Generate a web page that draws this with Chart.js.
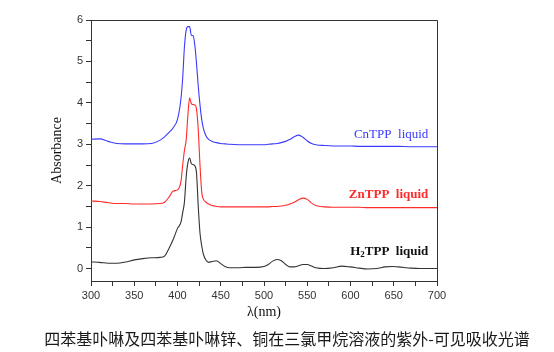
<!DOCTYPE html>
<html lang="zh">
<head>
<meta charset="UTF-8">
<script src="https://cdn.jsdelivr.net/npm/chart.js"></script>
<style>
  html, body { margin: 0; padding: 0; background: #fff; }
  #wrap { position: relative; width: 554px; height: 352px; }
  #caption {
    position: absolute; left: 20px; width: 534px; top: 326px;
    text-align: center; font: 16px "Noto Sans CJK SC", sans-serif; color: #1a1a1a;
  }
</style>
<title>UV-Vis</title>
</head>
<body>
<div id="wrap">
  <canvas id="myChart" width="554" height="352"></canvas>
  <div id="caption">四苯基卟啉及四苯基卟啉锌、铜在三氯甲烷溶液的紫外-可见吸收光谱</div>
</div>
<script>
// wavelength (nm), shared by all three spectra
const wavelengths = [300,310,320,330,340,350,360,370,380,385,390,395,400,404,406,408,410,412,414,416,418,420,422,424,426,428,430,433,436,440,445,450,455,460,470,480,490,500,505,510,515,520,525,530,535,540,545,550,555,560,570,580,590,600,610,620,630,640,648,655,670,680,690,700];

const cnTPP = [3.12,3.13,3.07,3.02,3.01,3.01,3.01,3.02,3.1,3.18,3.28,3.4,3.6,4.1,4.6,5.35,5.75,5.84,5.84,5.63,5.62,5.4,4.95,4.4,3.95,3.6,3.38,3.2,3.12,3.07,3.04,3.02,3.01,3.0,2.99,2.99,2.99,2.99,3.0,3.01,3.02,3.04,3.07,3.12,3.18,3.22,3.17,3.08,3.02,2.99,2.97,2.96,2.96,2.96,2.95,2.95,2.95,2.95,2.95,2.95,2.94,2.94,2.94,2.94];

const znTPP = [1.63,1.62,1.59,1.57,1.57,1.56,1.56,1.56,1.57,1.6,1.72,1.87,1.9,2.1,2.5,2.85,3.1,3.7,4.12,3.98,3.96,3.95,3.85,3.35,2.5,1.85,1.67,1.6,1.56,1.52,1.5,1.49,1.49,1.49,1.49,1.49,1.49,1.49,1.49,1.5,1.5,1.51,1.53,1.56,1.6,1.66,1.7,1.67,1.58,1.52,1.49,1.48,1.48,1.48,1.48,1.47,1.47,1.47,1.47,1.47,1.47,1.47,1.47,1.47];

const h2TPP = [0.16,0.15,0.13,0.13,0.16,0.21,0.24,0.26,0.27,0.3,0.48,0.7,0.97,1.12,1.35,1.6,2.2,2.55,2.67,2.53,2.51,2.48,2.3,1.5,0.86,0.55,0.34,0.2,0.15,0.17,0.19,0.12,0.05,0.02,0.02,0.03,0.03,0.05,0.1,0.18,0.22,0.19,0.1,0.04,0.04,0.07,0.1,0.1,0.06,0.02,0.0,0.02,0.06,0.04,0.01,-0.01,0.0,0.04,0.05,0.04,0.01,0.0,0.0,0.0];

const seriesNames = ['CnTPP  liquid', 'ZnTPP  liquid', 'H2TPP  liquid'];
const seriesColors = ['#3a3aff', '#ff2a2a', '#333333'];
// where each label sits (right edge, in nm / absorbance)
const labelX = [690, 690, 690];
const labelY = [3.24, 1.79, 0.42];

const xTicks = [300,325,350,375,400,425,450,475,500,525,550,575,600,625,650,675,700];
const yTicks = [0,0.5,1,1.5,2,2.5,3,3.5,4,4.5,5,5.5,6];

const toPoints = arr => wavelengths.map((w, i) => ({x: w, y: arr[i]}));

const frame = {
  id: 'frame',
  afterDraw(chart) {
    const {ctx, chartArea: a} = chart;
    ctx.save();
    ctx.strokeStyle = '#333';
    ctx.lineWidth = 1;
    ctx.beginPath();
    ctx.moveTo(a.left, a.top + 0.5);
    ctx.lineTo(a.right + 0.5, a.top + 0.5);
    ctx.lineTo(a.right + 0.5, a.bottom);
    ctx.stroke();
    ctx.restore();
  }
};

const seriesLabels = {
  id: 'seriesLabels',
  afterDatasetsDraw(chart) {
    const {ctx, scales: {x, y}} = chart;
    ctx.save();
    ctx.textBaseline = 'middle';
    seriesNames.forEach((name, i) => {
      const px = x.getPixelForValue(labelX[i]);
      const py = y.getPixelForValue(labelY[i]);
      const bold = i > 0 ? 'bold ' : '';
      ctx.fillStyle = seriesColors[i] === '#333333' ? '#111' : seriesColors[i];
      if (name.startsWith('H2')) {
        const big = bold + '13px "Liberation Serif"';
        const small = bold + '9px "Liberation Serif"';
        const rest = name.slice(2);
        ctx.font = big;
        const wH = ctx.measureText('H').width, wR = ctx.measureText(rest).width;
        ctx.font = small;
        const w2 = ctx.measureText('2').width;
        let sx = px - (wH + w2 + wR);
        ctx.textAlign = 'left';
        ctx.font = big; ctx.fillText('H', sx, py);
        ctx.font = small; ctx.fillText('2', sx + wH, py + 4);
        ctx.font = big; ctx.fillText(rest, sx + wH + w2, py);
      } else {
        ctx.font = bold + '13px "Liberation Serif"';
        ctx.textAlign = 'right';
        ctx.fillText(name, px, py);
      }
    });
    ctx.restore();
  }
};

const config = {
  type: 'line',
  data: {
    datasets: [cnTPP, znTPP, h2TPP].map((arr, i) => ({
      label: seriesNames[i],
      data: toPoints(arr),
      borderColor: seriesColors[i],
      borderWidth: 1.1,
      pointRadius: 0,
      cubicInterpolationMode: 'monotone',
      fill: false
    }))
  },
  options: {
    responsive: false,
    animation: false,
    layout: { padding: { left: 45, right: 117, top: 20, bottom: 27 } },
    plugins: { legend: { display: false }, tooltip: { enabled: false } },
    scales: {
      x: {
        type: 'linear',
        min: 300, max: 700,
        afterBuildTicks: s => { s.ticks = xTicks.map(v => ({value: v})); },
        afterFit: s => { s.height = 44; },
        ticks: {
          callback: v => (v % 50 === 0 ? v : ''),
          color: '#333', font: { family: '"Liberation Sans"', size: 11 }, maxRotation: 0, autoSkip: false
        },
        grid: { drawOnChartArea: false, tickLength: 5, color: '#333' },
        border: { color: '#333', width: 1 },
        title: { display: true, text: 'λ(nm)', color: '#111', font: { family: '"Liberation Serif"', size: 14 } }
      },
      y: {
        min: -0.3, max: 6,
        afterBuildTicks: s => { s.ticks = yTicks.map(v => ({value: v})); },
        afterFit: s => { s.width = 46; },
        ticks: {
          callback: v => (Number.isInteger(v) ? v : ''),
          color: '#333', font: { family: '"Liberation Sans"', size: 11 }, autoSkip: false
        },
        grid: { drawOnChartArea: false, tickLength: 5, color: '#333' },
        border: { color: '#333', width: 1 },
        title: { display: true, text: 'Absorbance', color: '#111', font: { family: '"Liberation Serif"', size: 14 } }
      }
    }
  },
  plugins: [frame, seriesLabels]
};

new Chart(document.getElementById('myChart'), config);
</script>
</body>
</html>
